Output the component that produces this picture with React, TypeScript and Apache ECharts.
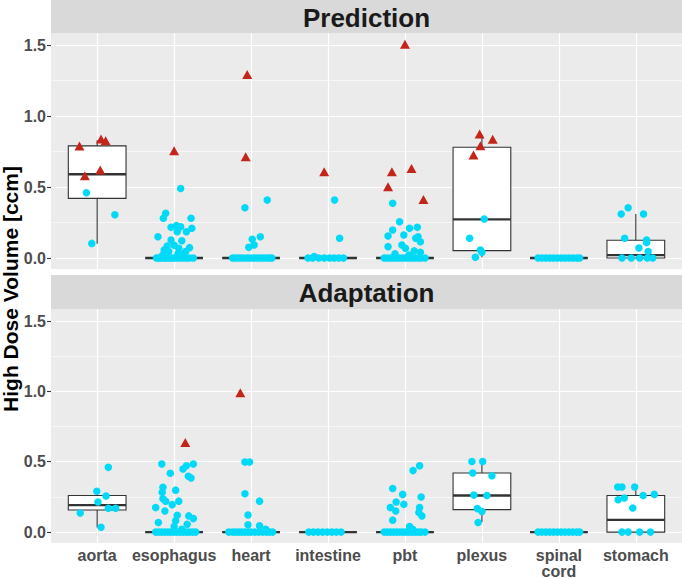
import React, { useEffect, useRef } from "react";
import * as echarts from "echarts";

const CATEGORIES = ["aorta", "esophagus", "heart", "intestine", "pbt", "plexus", "spinal\ncord", "stomach"];
const PANELS = ["Prediction", "Adaptation"];
const Y_TICKS = [0, 0.5, 1.0, 1.5];
const Y_MINOR = [0.25, 0.75, 1.25];
const Y_TITLE = "High Dose Volume [ccm]";

// box statistics per category: [lower whisker, Q1, median, Q3, upper whisker]
const predictionBoxes = [
  [0.10, 0.42, 0.59, 0.79, 0.83],
  [0, 0, 0, 0, 0],
  [0, 0, 0, 0, 0],
  [0, 0, 0, 0, 0],
  [0, 0, 0, 0, 0],
  [0.005, 0.052, 0.272, 0.78, 0.86],
  [0, 0, 0, 0, 0],
  [0, 0, 0.02, 0.125, 0.31],
];
const adaptationBoxes = [
  [0.033, 0.157, 0.192, 0.26, 0.29],
  [0, 0, 0, 0, 0],
  [0, 0, 0, 0, 0],
  [0, 0, 0, 0, 0],
  [0, 0, 0, 0, 0],
  [0.07, 0.16, 0.26, 0.42, 0.5],
  [0, 0, 0, 0, 0],
  [0, 0, 0.087, 0.26, 0.32],
];

// points: [category index, value, jitter]
const predictionRed = [
  [0, 0.79, -0.23], [0, 0.838, 0.05], [0, 0.826, 0.11], [0, 0.62, 0.04], [0, 0.58, -0.16],
  [1, 0.756, 0.0],
  [2, 1.293, -0.05], [2, 0.713, -0.07],
  [3, 0.608, -0.05],
  [4, 1.507, 0.0], [4, 0.608, -0.17], [4, 0.631, 0.085], [4, 0.502, -0.22], [4, 0.413, 0.24],
  [5, 0.873, -0.03], [5, 0.836, 0.14], [5, 0.791, -0.02], [5, 0.725, -0.11],
];
const predictionCyan = [
  [0, 0.46, -0.14], [0, 0.305, 0.23], [0, 0.103, -0.07],
  [1, 0.49, 0.085], [1, 0.315, -0.11], [1, 0.28, -0.14], [1, 0.28, 0.22], [1, 0.216, -0.04], [1, 0.228, 0.03],
  [1, 0.22, 0.085], [1, 0.185, 0.04], [1, 0.185, 0.16], [1, 0.21, 0.23], [1, 0.15, -0.21], [1, 0.127, -0.04],
  [1, 0.122, 0.1], [1, 0.085, -0.09], [1, 0.09, 0.0], [1, 0.073, 0.2], [1, 0.056, -0.13], [1, 0.068, 0.06],
  [1, 0.045, 0.15], [1, 0.045, -0.07], [1, 0.03, 0.05], [1, 0.02, -0.15], [1, 0.025, 0.1],
  [2, 0.354, -0.08], [2, 0.408, 0.21], [2, 0.15, 0.12], [2, 0.132, 0.015], [2, 0.092, 0.04], [2, 0.075, -0.03],
  [3, 0.408, 0.085], [3, 0.139, 0.15], [3, 0.01, -0.18],
  [4, 0.385, -0.16], [4, 0.256, -0.07], [4, 0.197, -0.16], [4, 0.209, 0.06], [4, 0.216, 0.16], [4, 0.155, -0.22],
  [4, 0.162, -0.015], [4, 0.139, 0.14], [4, 0.15, 0.17], [4, 0.115, 0.2], [4, 0.08, -0.22], [4, 0.092, -0.04],
  [4, 0.068, 0.006], [4, 0.05, 0.12], [4, 0.03, -0.13], [4, 0.04, 0.2], [4, 0.02, 0.05],
  [5, 0.275, 0.03], [5, 0.139, -0.16], [5, 0.056, -0.02], [5, 0.04, 0.0], [5, 0.005, -0.085],
  [7, 0.354, -0.1], [7, 0.31, -0.19], [7, 0.31, 0.1], [7, 0.139, -0.145], [7, 0.127, 0.14], [7, 0.11, 0.14],
  [7, 0.07, 0.04], [7, 0.045, 0.16],
];
// points at exactly zero: [category index, jitters]
const predictionZeros = [
  [1, [-0.23, -0.2, -0.17, -0.13, -0.1, -0.06, -0.03, 0, 0.04, 0.08, 0.12, 0.16, 0.2, 0.25]],
  [2, [-0.24, -0.2, -0.16, -0.12, -0.08, -0.04, 0, 0.04, 0.08, 0.12, 0.16, 0.2, 0.24, 0.27]],
  [3, [-0.26, -0.2, -0.12, -0.05, 0.02, 0.08, 0.14, 0.2]],
  [4, [-0.27, -0.23, -0.19, -0.15, -0.11, -0.07, -0.03, 0.01, 0.05, 0.09, 0.13, 0.17, 0.21, 0.26]],
  [6, [-0.27, -0.22, -0.17, -0.12, -0.07, -0.02, 0.03, 0.08, 0.13, 0.18, 0.23, 0.27]],
  [7, [-0.18, -0.06, 0.05, 0.15, 0.22]],
];

const adaptationRed = [
  [1, 0.636, 0.145],
  [2, 0.991, -0.14],
];
const adaptationCyan = [
  [0, 0.46, 0.145], [0, 0.29, -0.005], [0, 0.256, 0.115], [0, 0.214, 0.01], [0, 0.169, 0.145], [0, 0.169, 0.24],
  [0, 0.136, -0.22], [0, 0.035, 0.05],
  [1, 0.484, -0.16], [1, 0.484, 0.25], [1, 0.472, 0.16], [1, 0.449, 0.115], [1, 0.418, -0.05], [1, 0.397, 0.185],
  [1, 0.385, 0.22], [1, 0.319, -0.145], [1, 0.284, -0.155], [1, 0.298, 0.02], [1, 0.237, -0.145], [1, 0.22, -0.11],
  [1, 0.22, 0.06], [1, 0.195, -0.025], [1, 0.174, -0.24], [1, 0.15, -0.12], [1, 0.12, 0.04], [1, 0.115, 0.19],
  [1, 0.096, 0.25], [1, 0.08, 0.02], [1, 0.068, -0.205], [1, 0.056, 0.17], [1, 0.04, 0.0], [1, 0.02, 0.1],
  [2, 0.498, -0.08], [2, 0.498, -0.02], [2, 0.272, -0.08], [2, 0.22, 0.11], [2, 0.122, -0.04], [2, 0.052, -0.04],
  [2, 0.045, 0.11], [2, 0.02, 0.19],
  [4, 0.472, 0.19], [4, 0.437, 0.105], [4, 0.31, -0.16], [4, 0.268, -0.03], [4, 0.249, 0.21], [4, 0.214, -0.115],
  [4, 0.197, -0.015], [4, 0.174, -0.19], [4, 0.15, -0.12], [4, 0.174, 0.19], [4, 0.139, 0.18], [4, 0.115, 0.22],
  [4, 0.085, -0.16], [4, 0.04, 0.06], [4, 0.02, 0.1],
  [5, 0.502, -0.13], [5, 0.502, 0.01], [5, 0.42, -0.12], [5, 0.4, 0.13], [5, 0.263, -0.105], [5, 0.26, 0.065],
  [5, 0.167, -0.06], [5, 0.146, 0.0], [5, 0.068, -0.05],
  [7, 0.32, -0.235], [7, 0.32, -0.18], [7, 0.32, -0.015], [7, 0.26, 0.095], [7, 0.268, 0.24], [7, 0.23, -0.23],
  [7, 0.242, -0.15], [7, 0.171, -0.04],
];
const adaptationZeros = [
  [1, [-0.24, -0.2, -0.16, -0.12, -0.08, -0.04, 0, 0.04, 0.08, 0.12, 0.16, 0.2, 0.24, 0.28]],
  [2, [-0.29, -0.24, -0.2, -0.16, -0.12, -0.08, -0.04, 0, 0.05, 0.1, 0.15, 0.2, 0.24, 0.28]],
  [3, [-0.25, -0.19, -0.13, -0.07, -0.01, 0.05, 0.11, 0.17]],
  [4, [-0.27, -0.23, -0.19, -0.15, -0.11, -0.07, -0.03, 0.01, 0.05, 0.09, 0.13, 0.17, 0.21, 0.26]],
  [6, [-0.27, -0.22, -0.17, -0.12, -0.07, -0.02, 0.03, 0.08, 0.13, 0.18, 0.23, 0.27]],
  [7, [-0.18, -0.1, 0.05, 0.19]],
];

const PANEL_BOXES = [predictionBoxes, adaptationBoxes];
const PANEL_RED = [predictionRed, adaptationRed];
const PANEL_CYAN = [predictionCyan, adaptationCyan];
const PANEL_ZEROS = [predictionZeros, adaptationZeros];

const FONT = "'Liberation Sans', Arial, Helvetica, sans-serif";
const CYAN = "#00D9F8";
const RED = "#C4251A";
const Y_MIN = -0.0775;
const Y_MAX = 1.5855;
const X_MIN = 0.4;
const X_MAX = 8.6;

const GRIDS = [
  { top: 33, height: 236 },
  { top: 309, height: 235 },
];
const LEFT = 51;
const WIDTH = 631;

function toXY(points: number[][]) {
  return points.map((p) => [p[0] + 1 + p[2], p[1]]);
}
function zerosToXY(z: any[]) {
  const out: number[][] = [];
  z.forEach(([c, js]) => js.forEach((j: number) => out.push([c + 1 + j, 0])));
  return out;
}

export default function App() {
  const ref = useRef<HTMLDivElement>(null);
  useEffect(() => {
    if (!ref.current) return;
    const chart = echarts.init(ref.current, undefined, { renderer: "svg" });
    const catVals = CATEGORIES.map((_, i) => i + 1);

    const series: any[] = [];
    const grid: any[] = [];
    const xAxis: any[] = [];
    const yAxis: any[] = [];
    const graphic: any[] = [];

    GRIDS.forEach((g, gi) => {
      grid.push({
        left: LEFT, top: g.top, width: WIDTH, height: g.height,
        show: true, backgroundColor: "#EBEBEB", borderWidth: 0, containLabel: false,
      });
      const isBottom = gi === GRIDS.length - 1;
      xAxis.push({
        gridIndex: gi, type: "value", min: X_MIN, max: X_MAX,
        axisLine: { show: false },
        splitLine: { show: false },
        axisTick: isBottom
          ? { show: true, customValues: catVals, length: 4, lineStyle: { color: "#333333", width: 1.1 } }
          : { show: false },
        axisLabel: isBottom
          ? {
              show: true, customValues: catVals, margin: 4,
              formatter: (v: number) => CATEGORIES[Math.round(v) - 1] ?? "",
              fontSize: 16, fontWeight: "bold", color: "#4D4D4D", fontFamily: FONT, lineHeight: 16,
            }
          : { show: false },
      });
      yAxis.push({
        gridIndex: gi, type: "value", min: Y_MIN, max: Y_MAX,
        axisLine: { show: false },
        splitLine: { show: false },
        axisTick: { show: true, customValues: Y_TICKS, length: 4, lineStyle: { color: "#333333", width: 1.1 } },
        axisLabel: {
          show: true, customValues: Y_TICKS, margin: 5,
          formatter: (v: number) => v.toFixed(1),
          fontSize: 16, fontWeight: "bold", color: "#4D4D4D", fontFamily: FONT,
        },
      });

      // grid lines
      const gl: any[] = [];
      Y_MINOR.forEach((v) => gl.push({ coords: [[X_MIN, v], [X_MAX, v]], lineStyle: { width: 0.6 } }));
      Y_TICKS.forEach((v) => gl.push({ coords: [[X_MIN, v], [X_MAX, v]], lineStyle: { width: 1.2 } }));
      catVals.forEach((v) => gl.push({ coords: [[v, Y_MIN], [v, Y_MAX]], lineStyle: { width: 1.2 } }));
      series.push({
        type: "lines", coordinateSystem: "cartesian2d", xAxisIndex: gi, yAxisIndex: gi,
        silent: true, z: 1, polyline: false,
        lineStyle: { color: "#FFFFFF", opacity: 1, type: "solid" },
        data: gl,
      });

      // boxes
      const boxData = PANEL_BOXES[gi].map((b, i) => [i + 1, ...b]);
      series.push({
        type: "custom", xAxisIndex: gi, yAxisIndex: gi, z: 2, silent: true,
        data: boxData,
        renderItem: (params: any, api: any) => {
          const x = api.value(0);
          const lo = api.value(1), q1 = api.value(2), med = api.value(3), q3 = api.value(4), hi = api.value(5);
          const half = 0.375;
          const cx = api.coord([x, 0])[0];
          const xl = api.coord([x - half, 0])[0];
          const xr = api.coord([x + half, 0])[0];
          const y = (v: number) => api.coord([x, v])[1];
          const stroke = { stroke: "#333333", lineWidth: 1.1, fill: null };
          return {
            type: "group",
            children: [
              { type: "line", shape: { x1: cx, y1: y(hi), x2: cx, y2: y(q3) }, style: stroke },
              { type: "line", shape: { x1: cx, y1: y(q1), x2: cx, y2: y(lo) }, style: stroke },
              {
                type: "rect",
                shape: { x: xl, y: y(q3), width: xr - xl, height: y(q1) - y(q3) },
                style: { fill: "#FFFFFF", stroke: "#333333", lineWidth: 1.1 },
              },
              { type: "line", shape: { x1: xl, y1: y(med), x2: xr, y2: y(med) }, style: { stroke: "#333333", lineWidth: 2.3 } },
            ],
          };
        },
      });

      // points
      series.push({
        type: "scatter", xAxisIndex: gi, yAxisIndex: gi, z: 3, silent: true,
        symbol: "circle", symbolSize: 7.5,
        itemStyle: { color: CYAN, opacity: 1 },
        data: [...zerosToXY(PANEL_ZEROS[gi]), ...toXY(PANEL_CYAN[gi])],
      });
      series.push({
        type: "scatter", xAxisIndex: gi, yAxisIndex: gi, z: 4, silent: true,
        symbol: "triangle", symbolSize: [10, 9],
        itemStyle: { color: RED, opacity: 1 },
        data: toXY(PANEL_RED[gi]),
      });

      // strip
      const stripTop = gi === 0 ? 0 : 275;
      const stripH = gi === 0 ? 33 : 34;
      graphic.push({
        type: "rect", left: LEFT, top: stripTop, z: 0,
        shape: { width: WIDTH, height: stripH },
        style: { fill: "#D9D9D9" },
      });
      graphic.push({
        type: "text", x: LEFT + WIDTH / 2, y: stripTop + stripH / 2 + 1, z: 1,
        style: {
          text: PANELS[gi], fill: "#1A1A1A", font: `bold 26px ${FONT}`,
          textAlign: "center", textVerticalAlign: "middle",
        },
      });
    });

    graphic.push({
      type: "text", x: 10, y: 289, rotation: Math.PI / 2,
      style: {
        text: Y_TITLE, fill: "#000000", font: `bold 21px ${FONT}`,
        textAlign: "center", textVerticalAlign: "middle",
      },
    });

    chart.setOption({
      animation: false,
      backgroundColor: "#FFFFFF",
      grid, xAxis, yAxis, series, graphic,
    });
    return () => chart.dispose();
  }, []);
  return (
    <div
      ref={ref}
      style={{ position: "absolute", left: 0, top: 0, width: 682, height: 579 }}
    />
  );
}
